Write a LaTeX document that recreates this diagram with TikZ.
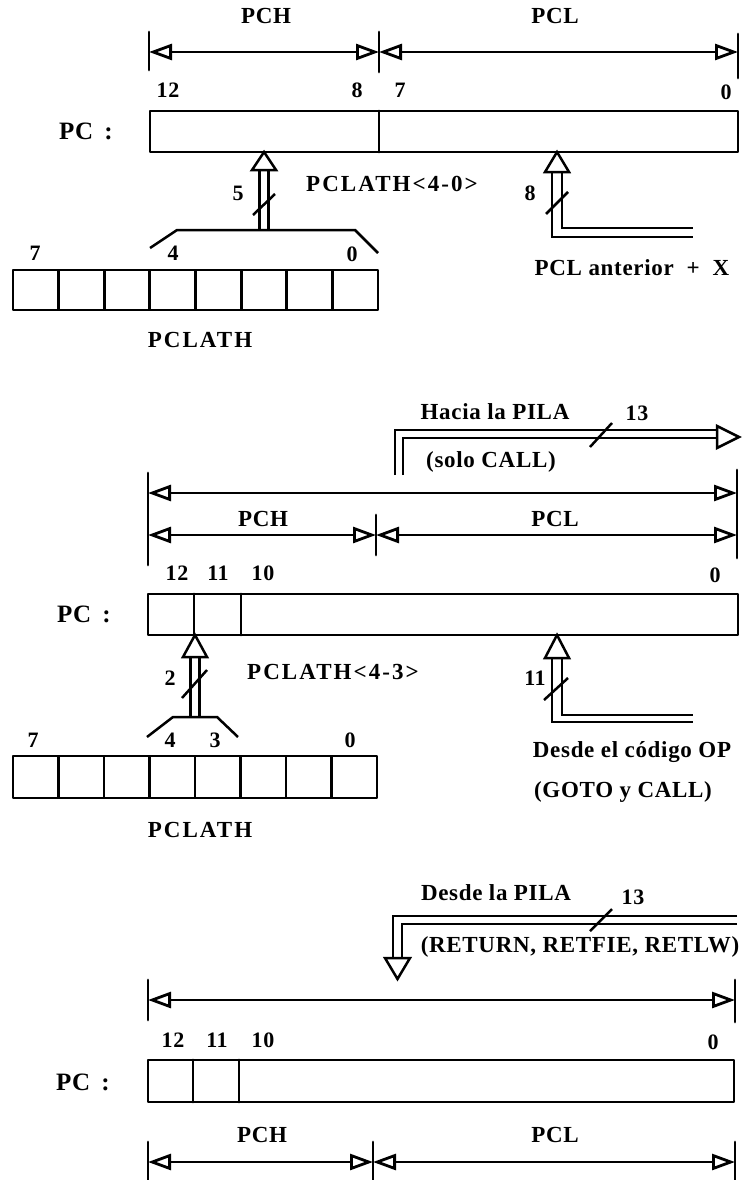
\documentclass[tikz,border=0pt]{standalone}
\usepackage{fontspec}
\setmainfont{Liberation Serif}[LetterSpace=3]
\usetikzlibrary{arrows.meta}
\tikzset{
  lw/.style={line width=2.8pt, line cap=round, line join=round},
  bl/.style={line width=2.5pt, line join=miter},
  dimln/.style={line width=2.8pt, arrows={Triangle[open,length=23pt,width=16pt]-Triangle[open,length=23pt,width=16pt]}},
  lab/.style={font=\bfseries\fontsize{23}{26}\selectfont, inner sep=0pt},
  spl/.style={font=\bfseries\fontsize{23}{26}\selectfont\addfontfeatures{LetterSpace=9}, inner sep=0pt},
  bitn/.style={font=\bfseries\fontsize{22}{26}\selectfont, inner sep=0pt},
  pcl/.style={font=\bfseries\fontsize{25}{28}\selectfont, inner sep=0pt},
  bushead/.style={line width=2.5pt, fill=white, line join=miter}
}
\begin{document}
\begin{tikzpicture}[x=1pt,y=-1pt]
\useasboundingbox (0,0) rectangle (744,1180);

% ================= TOP =================
\coordinate (aL) at (149,52);
\coordinate (aM) at (379,52);
\coordinate (aR) at (738,52);
\draw[lw] (149,32) -- (149,70);
\draw[lw] (379,32) -- (379,72);
\draw[lw] (738,34) -- (738,78);
\draw[dimln] (aL) -- (aM);
\draw[dimln] (aM) -- (aR);
\node[lab] (pch1) at (266,16) {PCH};
\node[lab] (pcl1) at (555,16) {PCL};
\node[bitn] (b1a) at (168,90) {12};
\node[bitn] (b1b) at (357,90) {8};
\node[bitn] (b1c) at (400,90) {7};
\node[bitn] (b1d) at (726,92) {0};
\node[pcl] (pc1) at (86,131) {PC~\,:};
\draw[lw] (150,111) rectangle (738,152);
\draw[lw] (379,111) -- (379,152);
% bus from PCLATH
\draw[bl] (150,248) -- (177,230) -- (355,230) -- (378,253);
\draw[bl] (259.5,230) -- (259.5,170);
\draw[bl] (268.5,230) -- (268.5,170);
\draw[bushead] (252,170) -- (276,170) -- (264,152) -- cycle;
\draw[bl] (253,215) -- (275,194);
\node[bitn] (n5) at (238,193) {5};
\node[spl] (plh1) at (392,184) {PCLATH<4-0>};
% bus from PCL anterior
\draw[bl] (552,172) -- (552,237) -- (693,237);
\draw[bl] (562,172) -- (562,228) -- (693,228);
\draw[bushead] (545,172) -- (569,172) -- (557,152) -- cycle;
\draw[bl] (546,214) -- (568,192);
\node[bitn] (n8) at (530,193) {8};
\node[lab] (ant) at (632,268) {PCL anterior~ +~ X};
% PCLATH register
\foreach \i in {0,...,7}
  \draw[lw] ({13+\i*45.625},270) rectangle ({13+(\i+1)*45.625},310);
\node[bitn] (r1a) at (35,253) {7};
\node[bitn] (r1b) at (173,253) {4};
\node[bitn] (r1c) at (352,254) {0};
\node[spl] (reg1) at (200,340) {PCLATH};

% ================= MIDDLE =================
\node[lab] (hac) at (495,412) {Hacia la PILA};
\node[bitn] (n13a) at (637,413) {13};
\draw[bl] (395,475) -- (395,430) -- (717,430);
\draw[bl] (403,475) -- (403,438) -- (717,438);
\draw[bushead] (717,426) -- (717,448) -- (739,437) -- cycle;
\draw[bl] (590,447) -- (612,423);
\node[lab] (solo) at (491,462) {(solo CALL)};
\coordinate (cL) at (148,493);
\coordinate (cR) at (737,493);
\draw[lw] (148,473) -- (148,565);
\draw[lw] (737,470) -- (737,558);
\draw[dimln] (cL) -- (cR);
\coordinate (dL) at (148,535);
\coordinate (dM) at (376,535);
\coordinate (dR) at (737,535);
\draw[lw] (376,515) -- (376,555);
\draw[dimln] (dL) -- (dM);
\draw[dimln] (dM) -- (dR);
\node[lab] (pch2) at (263,519) {PCH};
\node[lab] (pcl2) at (555,519) {PCL};
\node[bitn] (b2a) at (177,573) {12};
\node[bitn] (b2b) at (218,573) {11};
\node[bitn] (b2c) at (263,573) {10};
\node[bitn] (b2d) at (715,575) {0};
\node[pcl] (pc2) at (84,614) {PC~\,:};
\draw[lw] (148,594) rectangle (738,635);
\draw[lw] (194,594) -- (194,635);
\draw[lw] (241,594) -- (241,635);
% bus from PCLATH<4-3>
\draw[bl] (147,737) -- (173,717) -- (217,717) -- (238,737);
\draw[bl] (190.5,717) -- (190.5,657);
\draw[bl] (199.5,717) -- (199.5,657);
\draw[bushead] (183,657) -- (207,657) -- (195,635) -- cycle;
\draw[bl] (182,698) -- (207,670);
\node[bitn] (n2) at (170,678) {2};
\node[spl] (plh2) at (333,672) {PCLATH<4-3>};
% bus from opcode
\draw[bl] (552,658) -- (552,722) -- (693,722);
\draw[bl] (562,658) -- (562,715) -- (693,715);
\draw[bushead] (545,658) -- (569,658) -- (557,635) -- cycle;
\draw[bl] (544,700) -- (568,678);
\node[bitn] (n11) at (535,678) {11};
\node[lab] (opc) at (632,752) {Desde el código OP};
\node[lab] (goto) at (623,792) {(GOTO y CALL)};
% PCLATH register
\foreach \i in {0,...,7}
  \draw[lw] ({13+\i*45.5},756) rectangle ({13+(\i+1)*45.5},798);
\node[bitn] (r2a) at (33,740) {7};
\node[bitn] (r2b) at (170,740) {4};
\node[bitn] (r2c) at (215,740) {3};
\node[bitn] (r2d) at (350,740) {0};
\node[spl] (reg2) at (200,830) {PCLATH};

% ================= BOTTOM =================
\node[lab] (des) at (496,893) {Desde la PILA};
\node[bitn] (n13b) at (633,897) {13};
\draw[bl] (737,916) -- (393,916) -- (393,958);
\draw[bl] (737,924) -- (402,924) -- (402,958);
\draw[bushead] (385,958) -- (410,958) -- (397.5,979) -- cycle;
\draw[bl] (590,931) -- (612,909);
\node[lab] (ret) at (580,947) {(RETURN, RETFIE, RETLW)};
\coordinate (eL) at (148,1000);
\coordinate (eR) at (735,1000);
\draw[lw] (148,980) -- (148,1020);
\draw[lw] (735,980) -- (735,1022);
\draw[dimln] (eL) -- (eR);
\node[bitn] (b3a) at (173,1040) {12};
\node[bitn] (b3b) at (217,1040) {11};
\node[bitn] (b3c) at (263,1040) {10};
\node[bitn] (b3d) at (713,1042) {0};
\node[pcl] (pc3) at (83,1082) {PC~\,:};
\draw[lw] (148,1060) rectangle (734,1102);
\draw[lw] (193,1060) -- (193,1102);
\draw[lw] (239,1060) -- (239,1102);
\node[lab] (pch3) at (262,1135) {PCH};
\node[lab] (pcl3) at (555,1135) {PCL};
\coordinate (fL) at (148,1162);
\coordinate (fM) at (373,1162);
\coordinate (fR) at (735,1162);
\draw[lw] (148,1142) -- (148,1180);
\draw[lw] (373,1142) -- (373,1180);
\draw[lw] (735,1142) -- (735,1180);
\draw[dimln] (fL) -- (fM);
\draw[dimln] (fM) -- (fR);
\end{tikzpicture}
\end{document}
